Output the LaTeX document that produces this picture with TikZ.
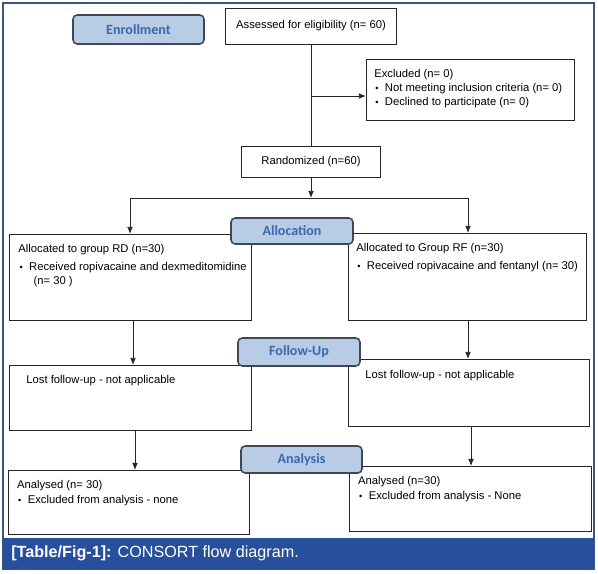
\documentclass[tikz,border=0pt]{standalone}
\usepackage{fontspec}
\setmainfont{Liberation Sans}
\newfontfamily\phasefont{Carlito}
\usetikzlibrary{arrows.meta}

\definecolor{phasefill}{HTML}{B8CCE5}
\definecolor{phasetext}{HTML}{3A68AE}
\definecolor{phaseline}{HTML}{3F4756}
\definecolor{barblue}{HTML}{284F9C}
\definecolor{frameblue}{HTML}{3A557F}

\newcommand{\bul}{\hspace{0.1em}\makebox[0.85em][l]{\fontsize{6.5}{6}\selectfont\textbullet}}

\begin{document}
\begin{tikzpicture}[x=0.025cm, y=-0.025cm, >={Latex[length=5pt,width=4pt]},
    stepbox/.style={draw=black!85, line width=0.7pt, rectangle, fill=white, inner sep=0pt, font=\fontsize{8}{10}\selectfont},
    steptext/.style={anchor=north west, align=left, inner xsep=0.23cm, inner ysep=0.24cm, font=\fontsize{8}{10}\selectfont},
    phase/.style={draw=phaseline, line width=1.1pt, rectangle, rounded corners=3pt, fill=phasefill, text=phasetext, inner sep=0pt, font=\phasefont\bfseries\fontsize{10}{12}\selectfont},
    link/.style={line width=0.55pt, black!85}]
    \useasboundingbox (0,0) rectangle (598,573);
    \draw[frameblue, line width=1pt, fill=white] (3,3) rectangle (594,569);
    \fill[barblue] (3,538) rectangle (594,569);
    \node[anchor=west, inner sep=0pt, text=white, font=\fontsize{11.5}{13}\selectfont] (caption) at (11,553.5) {\textbf{[Table/Fig-1]:} CONSORT flow diagram.};

    \node[stepbox, minimum width=4.25cm, minimum height=0.9cm] (assess) at (311,26) {Assessed for eligibility (n= 60)};
    \node[stepbox, anchor=north west, minimum width=5.2cm, minimum height=1.525cm,
        label={[steptext, inner xsep=0.2cm]north west:Excluded (n= 0)\\\bul Not meeting inclusion criteria (n= 0)\\\bul Declined to participate (n= 0)}] (excl) at (366,59) {};
    \node[stepbox, minimum width=3.45cm, minimum height=0.775cm] (rand) at (311,161.5) {Randomized (n=60)};

    \node[stepbox, anchor=north west, minimum width=6.05cm, minimum height=2.15cm,
        label={[steptext]north west:Allocated to group RD (n=30)\\[3pt]\bul Received ropivacaine and dexmeditomidine\\\hspace{1.35em}(n= 30 )}] (allocL) at (9,234) {};
    \node[stepbox, anchor=north west, minimum width=5.95cm, minimum height=2.175cm,
        label={[steptext, inner xsep=0.2cm]north west:Allocated to Group RF (n=30)\\[3pt]\bul Received ropivacaine and fentanyl (n= 30)}] (allocR) at (348,233) {};

    \node[stepbox, anchor=north west, minimum width=6.05cm, minimum height=1.625cm,
        label={[steptext, inner xsep=0.43cm]north west:Lost follow-up - not applicable}] (followL) at (9,365) {};
    \node[stepbox, anchor=north west, minimum width=6.025cm, minimum height=1.675cm,
        label={[steptext, inner xsep=0.43cm, inner ysep=0.27cm]north west:Lost follow-up - not applicable}] (followR) at (348,359) {};

    \node[stepbox, anchor=north west, minimum width=6.025cm, minimum height=1.6cm,
        label={[steptext, inner xsep=0.22cm]north west:Analysed (n= 30)\\[1pt]\bul Excluded from analysis - none}] (analysL) at (8,470) {};
    \node[stepbox, anchor=north west, minimum width=6.05cm, minimum height=1.625cm,
        label={[steptext, inner xsep=0.22cm]north west:Analysed (n=30)\\[1pt]\bul Excluded from analysis - None}] (analysR) at (349,466) {};

    \node[phase, minimum width=3.275cm, minimum height=0.725cm] (enroll) at (138.5,29.5) {Enrollment};
    \node[phase, minimum width=3.05cm, minimum height=0.65cm] (alloc) at (292,231) {Allocation};
    \node[phase, minimum width=3.05cm, minimum height=0.7cm] (follow) at (299,352) {Follow-Up};
    \node[phase, minimum width=3.025cm, minimum height=0.675cm] (analys) at (301.5,459.5) {Analysis};

    \coordinate (exclsplit) at (311,96);
    \coordinate (allocsplit) at (311,198);
    \coordinate (splitL) at (130,198);
    \coordinate (splitR) at (468,198);
    \coordinate (dropL) at (133,0);
    \coordinate (dropR) at (468,0);
    \coordinate (lastL) at (135,0);
    \coordinate (lastR) at (471,0);

    \draw[link] (assess) -- (rand);
    \draw[link, ->] (exclsplit) -- (exclsplit -| excl.west);
    \draw[link, ->] (rand) -- (allocsplit);
    \draw[link] (splitL) -- (splitR);
    \draw[link, ->] (splitL) -- (splitL |- allocL.north);
    \draw[link, ->] (splitR) -- (splitR |- allocR.north);
    \draw[link, ->] (dropL |- allocL.south) -- (dropL |- followL.north);
    \draw[link, ->] (dropR |- allocR.south) -- (dropR |- followR.north);
    \draw[link, ->] (lastL |- followL.south) -- (lastL |- analysL.north);
    \draw[link, ->] (lastR |- followR.south) -- (lastR |- analysR.north);
\end{tikzpicture}
\end{document}
